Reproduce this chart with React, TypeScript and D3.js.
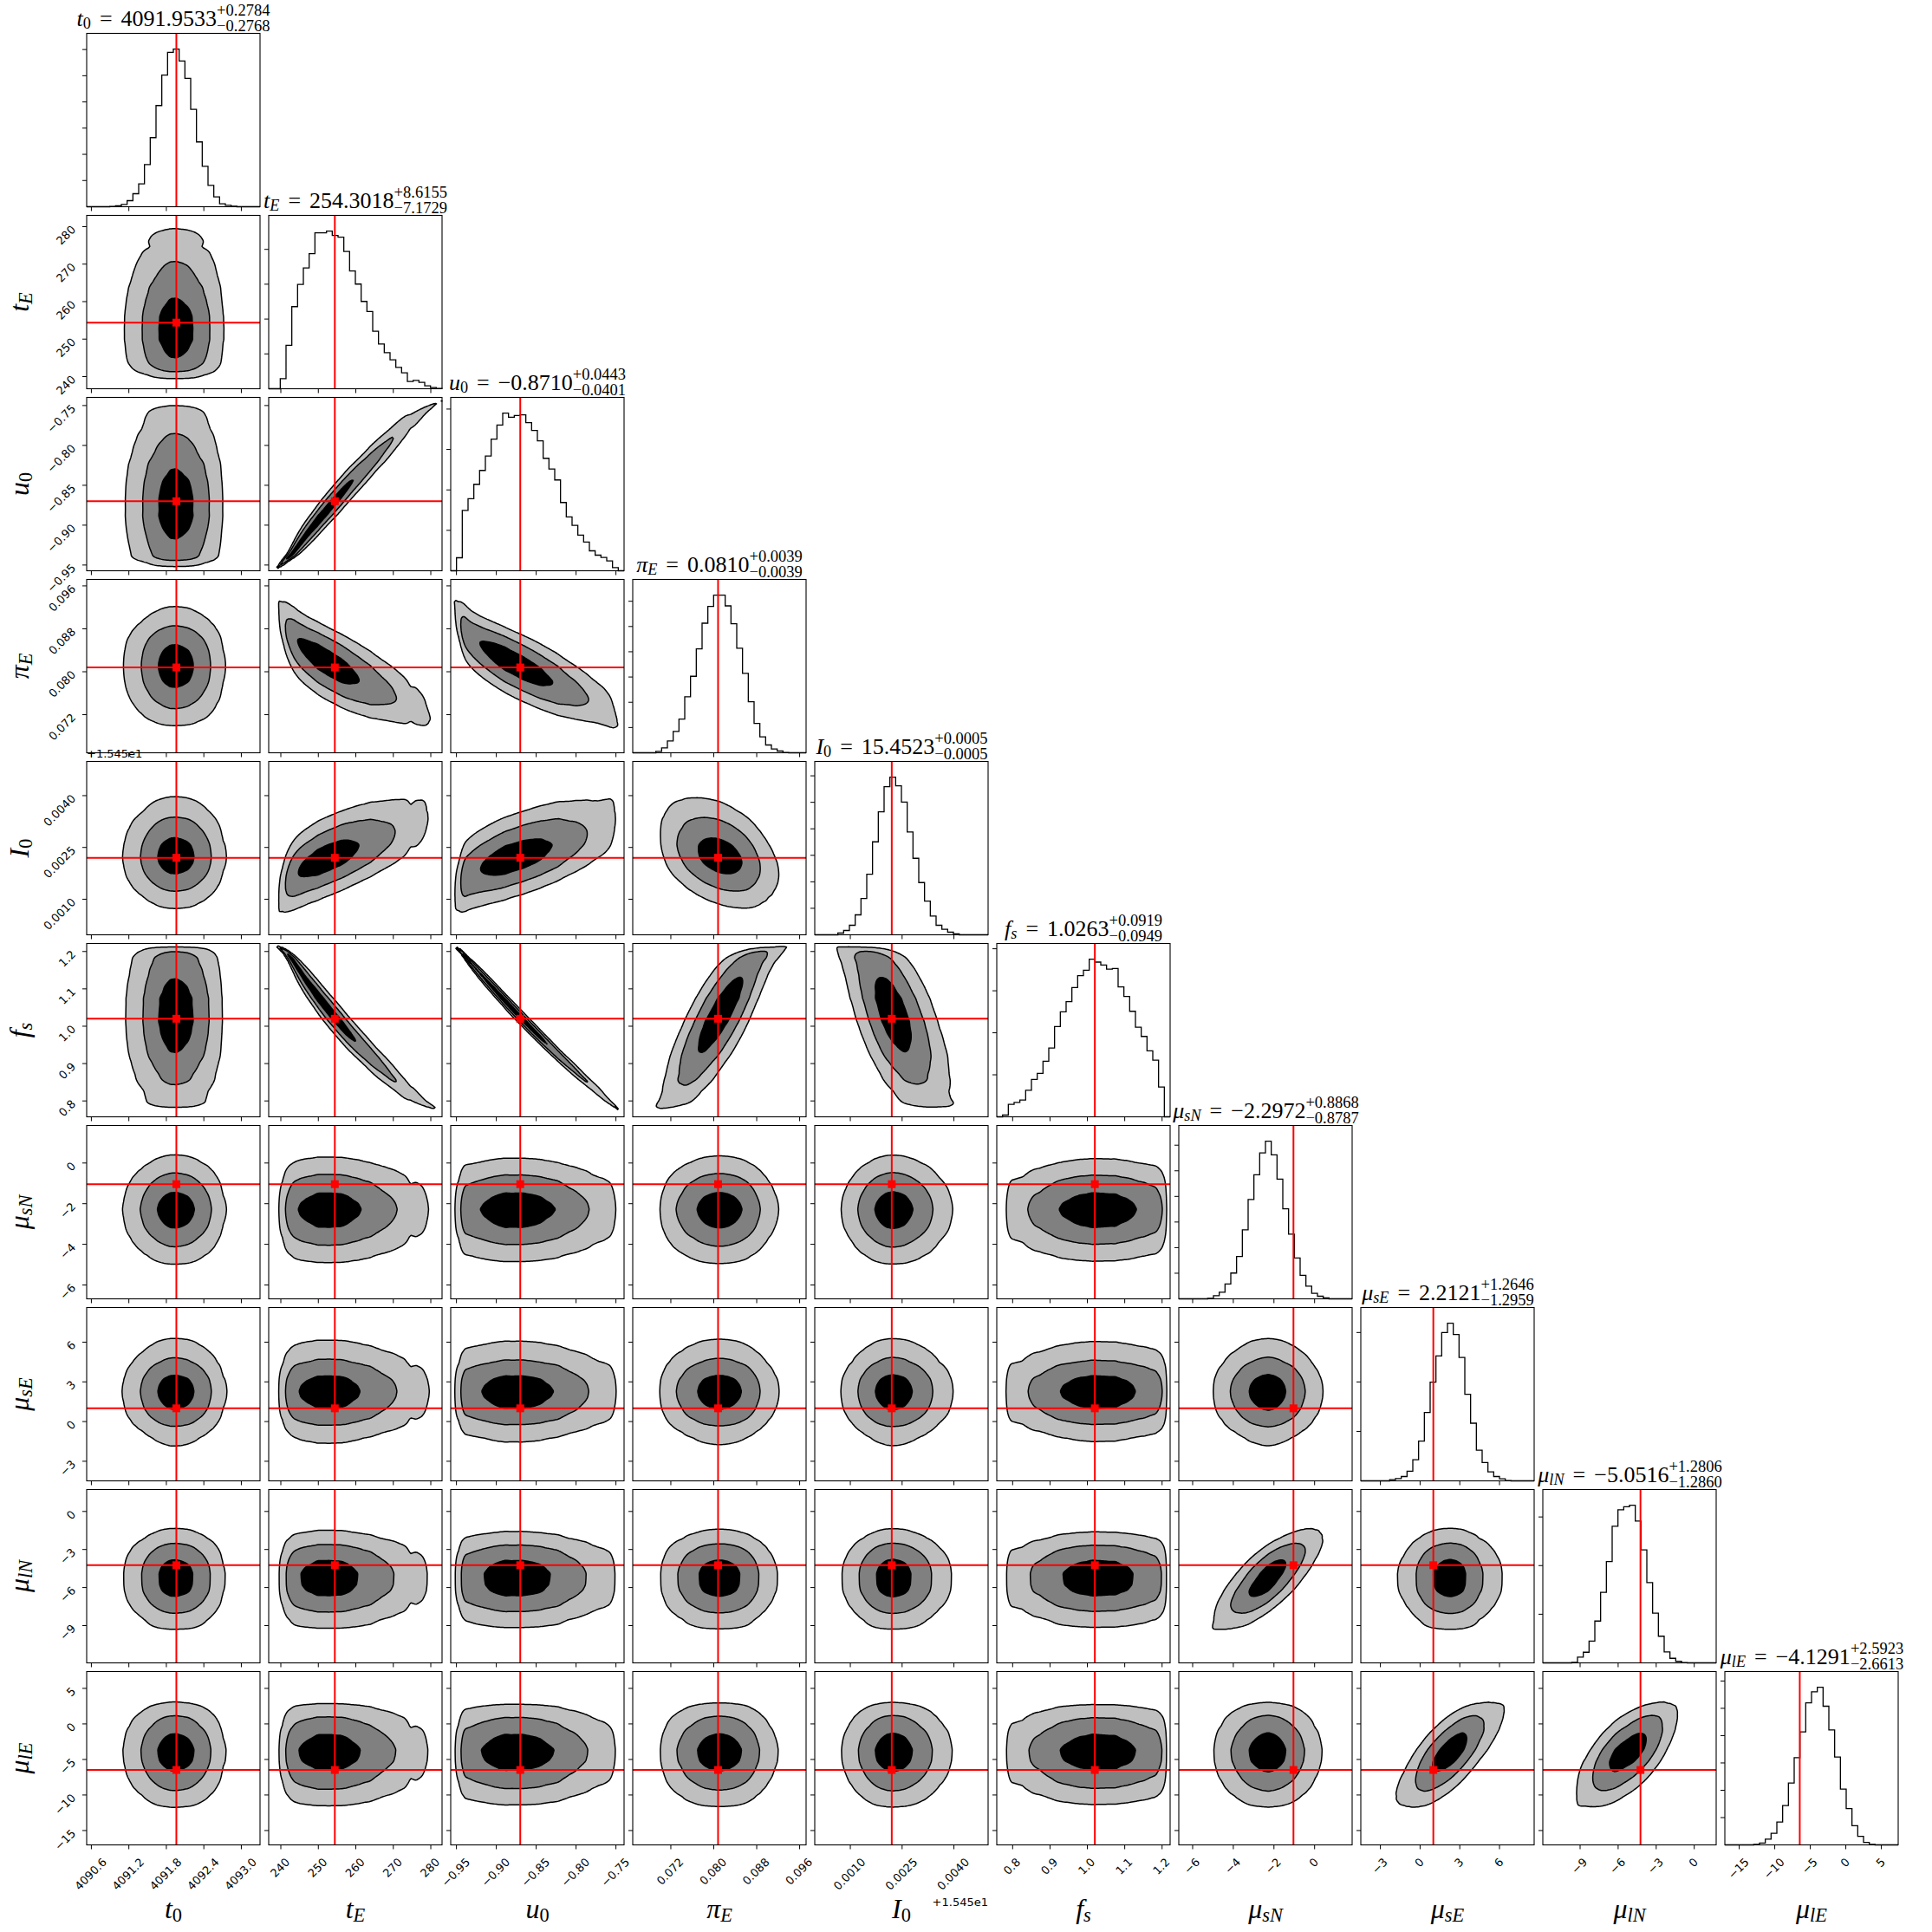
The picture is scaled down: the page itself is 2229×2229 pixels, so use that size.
import React, { useRef, useEffect } from "react";
import * as d3 from "d3";

const SIZE = 2229;
const PANEL = 200;
const PITCH = 210;
const LEFT = 100;
const TOP = 38.5;
const GRID = 120;

const SERIF = "'Liberation Serif', 'Times New Roman', serif";
const SANS = "'DejaVu Sans', sans-serif";

// axis labels: italic symbol + subscript
const symbols = ["t", "t", "u", "π", "I", "f", "μ", "μ", "μ", "μ"];
const subscripts = ["0", "E", "0", "E", "0", "s", "sN", "sE", "lN", "lE"];

// title numbers (median, +err, -err)
const medians = ["4091.9533", "254.3018", "−0.8710", "0.0810", "15.4523", "1.0263", "−2.2972", "2.2121", "−5.0516", "−4.1291"];
const errPlus = ["0.2784", "8.6155", "0.0443", "0.0039", "0.0005", "0.0919", "0.8868", "1.2646", "1.2806", "2.5923"];
const errMinus = ["0.2768", "7.1729", "0.0401", "0.0039", "0.0005", "0.0949", "0.8787", "1.2959", "1.2860", "2.6613"];

// axis ranges of each parameter
const ranges: [number, number][] = [
  [4090.525, 4093.299],
  [236.76, 283.0],
  [-0.9572, -0.7398],
  [0.0649, 0.0972],
  [15.44997, 15.45499],
  [0.7575, 1.2215],
  [-6.682, 1.847],
  [-4.48, 8.62],
  [-11.94, 1.73],
  [-17.02, 7.37],
];

// true values (red lines)
const truths = [4091.96, 254.4, -0.87, 0.0808, 15.4522, 1.02, -1.04, 1.0, -4.24, -6.48];

const tickValues = [
  [4090.6, 4091.2, 4091.8, 4092.4, 4093.0],
  [240, 250, 260, 270, 280],
  [-0.95, -0.9, -0.85, -0.8, -0.75],
  [0.072, 0.08, 0.088, 0.096],
  [15.451, 15.4525, 15.454],
  [0.8, 0.9, 1.0, 1.1, 1.2],
  [-6, -4, -2, 0],
  [-3, 0, 3, 6],
  [-9, -6, -3, 0],
  [-15, -10, -5, 0, 5],
];
const tickLabels = [
  ["4090.6", "4091.2", "4091.8", "4092.4", "4093.0"],
  ["240", "250", "260", "270", "280"],
  ["−0.95", "−0.90", "−0.85", "−0.80", "−0.75"],
  ["0.072", "0.080", "0.088", "0.096"],
  ["0.0010", "0.0025", "0.0040"],
  ["0.8", "0.9", "1.0", "1.1", "1.2"],
  ["−6", "−4", "−2", "0"],
  ["−3", "0", "3", "6"],
  ["−9", "−6", "−3", "0"],
  ["−15", "−10", "−5", "0", "5"],
];
const offsetText = "+1.545e1";
const offsetParam = 4;

// 30-bin marginal histograms (relative counts)
const histT0 = [0, 0, 0, 0, 1, 3, 8, 21, 45, 79, 146, 239, 350, 455, 534, 545, 504, 444, 337, 224, 140, 74, 34, 10, 5, 2, 0, 0, 0, 0];
const histTE = [0, 0, 35, 150, 284, 361, 418, 467, 539, 539, 545, 530, 524, 475, 407, 362, 302, 267, 199, 155, 125, 100, 74, 55, 25, 29, 22, 10, 4, 1];
const histU0 = [0, 45, 209, 249, 299, 347, 397, 455, 504, 545, 531, 537, 539, 512, 485, 449, 389, 352, 314, 236, 186, 157, 123, 99, 69, 54, 46, 34, 11, 0];
const histPiE = [0, 0, 0, 0, 5, 17, 41, 74, 117, 194, 265, 360, 449, 507, 546, 546, 509, 447, 362, 275, 177, 102, 55, 27, 13, 6, 1, 0, 0, 0];
const histI0 = [0, 0, 0, 0, 6, 15, 33, 69, 126, 210, 322, 426, 513, 546, 516, 460, 356, 265, 181, 117, 65, 33, 19, 9, 3, 0, 0, 0, 0, 0];
const histFs = [0, 6, 43, 50, 58, 92, 129, 150, 192, 238, 312, 363, 398, 447, 488, 507, 545, 535, 525, 511, 513, 449, 416, 365, 310, 278, 228, 196, 103, 0];
const histMusN = [0, 0, 0, 0, 0, 2, 11, 23, 51, 89, 146, 238, 343, 428, 504, 544, 497, 413, 311, 223, 141, 81, 44, 19, 9, 3, 0, 0, 0, 0];
const histMusE = [0, 0, 0, 0, 0, 4, 8, 15, 33, 73, 137, 236, 341, 431, 512, 544, 505, 426, 299, 199, 106, 63, 31, 15, 7, 1, 0, 0, 0, 0];
const histMulN = [0, 0, 0, 0, 0, 2, 19, 35, 72, 138, 233, 334, 451, 505, 515, 520, 468, 373, 265, 164, 88, 36, 15, 5, 1, 0, 0, 0, 0, 0];
const histMulE = [0, 0, 0, 0, 0, 2, 6, 19, 38, 75, 129, 203, 286, 371, 466, 502, 517, 455, 377, 288, 183, 119, 63, 28, 8, 2, 0, 0, 0, 0];
const histCounts = [histT0, histTE, histU0, histPiE, histI0, histFs, histMusN, histMusE, histMulN, histMulE];
const histTickSteps = [90.6, 120.5, 139.8, 87.5, 91.8, 145.3, 88.4, 170.7, 160.5, 89.6];

// pairwise correlations (row i, column j < i)
const correlations = [
  [],
  [0],
  [0, 0.985],
  [0, -0.78, -0.82],
  [0, 0.66, 0.6, -0.35],
  [0, -0.985, -0.997, 0.83, -0.62],
  [0, 0, 0, 0, 0, 0],
  [0, 0, 0, 0, 0, 0, 0],
  [0, 0, 0, 0, 0, 0, 0.75, 0],
  [0, 0, 0, 0, 0, 0, 0, 0.72, 0.65],
];

// enclosed probability of the filled contours, outer to inner
const levels = [0.989, 0.865, 0.393];
const fills = ["#bfbfbf", "#808080", "#000000"];

function normInv(p: number) {
  const a = [-39.69683028665376, 220.9460984245205, -275.9285104469687, 138.357751867269, -30.66479806614716, 2.506628277459239];
  const b = [-54.47609879822406, 161.5858368580409, -155.6989798598866, 66.80131188771972, -13.28068155288572];
  const c = [-0.007784894002430293, -0.3223964580411365, -2.400758277161838, -2.549732539343734, 4.374664141464968, 2.938163982698783];
  const d = [0.007784695709041462, 0.3224671290700398, 2.445134137142996, 3.754408661907416];
  const pl = 0.02425;
  if (p < pl) {
    const q = Math.sqrt(-2 * Math.log(p));
    return (((((c[0] * q + c[1]) * q + c[2]) * q + c[3]) * q + c[4]) * q + c[5]) / ((((d[0] * q + d[1]) * q + d[2]) * q + d[3]) * q + 1);
  }
  if (p > 1 - pl) {
    const q = Math.sqrt(-2 * Math.log(1 - p));
    return -(((((c[0] * q + c[1]) * q + c[2]) * q + c[3]) * q + c[4]) * q + c[5]) / ((((d[0] * q + d[1]) * q + d[2]) * q + d[3]) * q + 1);
  }
  const q = p - 0.5;
  const r = q * q;
  return ((((((a[0] * r + a[1]) * r + a[2]) * r + a[3]) * r + a[4]) * r + a[5]) * q) / (((((b[0] * r + b[1]) * r + b[2]) * r + b[3]) * r + b[4]) * r + 1);
}

// marginal density + normal scores on the grid, from the histogram
function buildMarginal(k: number) {
  const counts = histCounts[k];
  const nb = counts.length;
  const pdfAt = (u: number) => {
    const t = u * nb - 0.5;
    if (t <= 0) return counts[0];
    if (t >= nb - 1) return counts[nb - 1];
    const b = Math.floor(t);
    const f = t - b;
    return counts[b] * (1 - f) + counts[b + 1] * f;
  };
  const sub = 8;
  const m = GRID * sub;
  const cum = [0];
  for (let i = 0; i < m; i++) cum.push(cum[i] + pdfAt((i + 0.5) / m));
  const total = cum[m];
  const pdf: number[] = [];
  const z: number[] = [];
  for (let g = 0; g < GRID; g++) {
    pdf.push(pdfAt((g + 0.5) / GRID));
    const p = Math.min(1 - 1e-6, Math.max(1e-6, cum[g * sub + sub / 2] / total));
    z.push(normInv(p));
  }
  return { pdf, z };
}

function massThresholds(values: number[]) {
  const sorted = values.slice().sort((a, b) => b - a);
  const total = d3.sum(sorted);
  const res = levels.map(() => sorted[sorted.length - 1]);
  const done = levels.map(() => false);
  let acc = 0;
  for (const v of sorted) {
    acc += v;
    levels.forEach((l, k) => {
      if (!done[k] && acc >= l * total) {
        res[k] = v;
        done[k] = true;
      }
    });
  }
  return res;
}

function addMath(text: any, k: number, fs: number) {
  text.append("tspan").attr("font-style", "italic").text(symbols[k]);
  const s = subscripts[k];
  text
    .append("tspan")
    .attr("font-size", fs * 0.7)
    .attr("dy", fs * 0.12)
    .attr("font-style", /^\d+$/.test(s) ? "normal" : "italic")
    .text(s);
}

const App = () => {
  const svgRef = useRef<SVGSVGElement | null>(null);

  useEffect(() => {
    const svg = d3.select(svgRef.current);
    svg.selectAll("*").remove();
    svg.append("rect").attr("width", SIZE).attr("height", SIZE).attr("fill", "#fff");

    const n = ranges.length;
    const marginals = d3.range(n).map((k) => buildMarginal(k));
    const xScale = (j: number) =>
      d3.scaleLinear().domain(ranges[j]).range([LEFT + j * PITCH, LEFT + j * PITCH + PANEL]);
    const yScale = (i: number) =>
      d3.scaleLinear().domain(ranges[i]).range([TOP + i * PITCH + PANEL, TOP + i * PITCH]);

    for (let i = 0; i < n; i++) {
      for (let j = 0; j <= i; j++) {
        const x0 = LEFT + j * PITCH;
        const y0 = TOP + i * PITCH;
        const g = svg.append("g");
        const x = xScale(j);

        if (i === j) {
          // histogram
          const counts = histCounts[i];
          const nb = counts.length;
          const maxC = d3.max(counts) as number;
          const y = d3.scaleLinear().domain([0, 1.1 * maxC]).range([y0 + PANEL, y0]);
          const [r0, r1] = ranges[i];
          const edges = d3.range(nb + 1).map((b) => r0 + (b * (r1 - r0)) / nb);
          const pts: [number, number][] = [[edges[0], 0], ...counts.map((c, b) => [edges[b], c] as [number, number]), [edges[nb], 0]];
          const line = d3
            .line<[number, number]>()
            .x((d) => x(d[0]))
            .y((d) => y(d[1]))
            .curve(d3.curveStepAfter);
          g.append("path").attr("d", line(pts)).attr("fill", "none").attr("stroke", "#000").attr("stroke-width", 1.3);
          g.append("line")
            .attr("x1", x(truths[i])).attr("x2", x(truths[i]))
            .attr("y1", y0).attr("y2", y0 + PANEL)
            .attr("stroke", "#ff0000").attr("stroke-width", 2);
          const hticks = d3.range(histTickSteps[i], 1.1 * maxC, histTickSteps[i]);
          g.selectAll(".ht")
            .data(hticks)
            .enter()
            .append("line")
            .attr("x1", x0 - 5).attr("x2", x0)
            .attr("y1", (d) => y(d)).attr("y2", (d) => y(d))
            .attr("stroke", "#000").attr("stroke-width", 1);
        } else {
          // 2D density from marginals + gaussian copula
          const mx = marginals[j];
          const my = marginals[i];
          const rho = correlations[i][j];
          const s = 1 - rho * rho;
          const norm = 1 / Math.sqrt(s);
          const values: number[] = new Array(GRID * GRID).fill(0);
          for (let gy = 0; gy < GRID; gy++) {
            for (let gx = 0; gx < GRID; gx++) {
              const fx = mx.pdf[gx];
              const fy = my.pdf[gy];
              if (fx <= 0 || fy <= 0) continue;
              const zx = mx.z[gx];
              const zy = my.z[gy];
              values[gx + gy * GRID] =
                fx * fy * norm * Math.exp((2 * rho * zx * zy - rho * rho * (zx * zx + zy * zy)) / (2 * s));
            }
          }
          const th = massThresholds(values);
          const contours = d3.contours().size([GRID, GRID]).thresholds(th)(values);
          const proj = d3.geoTransform({
            point: function (this: any, px: number, py: number) {
              this.stream.point(x0 + (px / GRID) * PANEL, y0 + PANEL - (py / GRID) * PANEL);
            },
          });
          const path = d3.geoPath(proj);
          contours.forEach((c, k) => {
            g.append("path")
              .attr("d", path(c as any))
              .attr("fill", fills[k])
              .attr("fill-rule", "evenodd")
              .attr("stroke", "#000")
              .attr("stroke-width", 1.5)
              .attr("stroke-linejoin", "round");
          });
          const y = yScale(i);
          const tx = x(truths[j]);
          const ty = y(truths[i]);
          g.append("line")
            .attr("x1", tx).attr("x2", tx).attr("y1", y0).attr("y2", y0 + PANEL)
            .attr("stroke", "#ff0000").attr("stroke-width", 2);
          g.append("line")
            .attr("x1", x0).attr("x2", x0 + PANEL).attr("y1", ty).attr("y2", ty)
            .attr("stroke", "#ff0000").attr("stroke-width", 2);
          g.append("rect")
            .attr("x", tx - 4.5).attr("y", ty - 4.5).attr("width", 9).attr("height", 9)
            .attr("fill", "#ff0000");
          g.selectAll(".yt")
            .data(tickValues[i])
            .enter()
            .append("line")
            .attr("x1", x0 - 5).attr("x2", x0)
            .attr("y1", (d) => y(d)).attr("y2", (d) => y(d))
            .attr("stroke", "#000").attr("stroke-width", 1);
        }

        // frame + bottom ticks
        g.append("rect")
          .attr("x", x0).attr("y", y0).attr("width", PANEL).attr("height", PANEL)
          .attr("fill", "none").attr("stroke", "#000").attr("stroke-width", 1.1);
        g.selectAll(".xt")
          .data(tickValues[j])
          .enter()
          .append("line")
          .attr("x1", (d) => x(d)).attr("x2", (d) => x(d))
          .attr("y1", y0 + PANEL).attr("y2", y0 + PANEL + 5)
          .attr("stroke", "#000").attr("stroke-width", 1);
      }
    }

    // tick labels
    const tfs = 13;
    const cap = 0.73 * tfs;
    const bottomY = TOP + (n - 1) * PITCH + PANEL;
    for (let j = 0; j < n; j++) {
      const x = xScale(j);
      tickValues[j].forEach((v, k) => {
        const t = svg.append("text")
          .attr("font-family", SANS).attr("font-size", tfs)
          .attr("text-anchor", "end").text(tickLabels[j][k]);
        const w = (t.node() as SVGTextElement).getComputedTextLength();
        const ex = x(v) + (0.707 * (w + cap)) / 2 - 1;
        const ey = bottomY + 14 + 0.707 * cap;
        t.attr("transform", `translate(${ex},${ey}) rotate(-45)`);
      });
    }
    for (let i = 1; i < n; i++) {
      const y = yScale(i);
      tickValues[i].forEach((v, k) => {
        const ey = y(v) - 2.5 + 0.707 * cap;
        svg.append("text")
          .attr("font-family", SANS).attr("font-size", tfs)
          .attr("text-anchor", "end")
          .attr("transform", `translate(88,${ey}) rotate(-45)`)
          .text(tickLabels[i][k]);
      });
    }
    // offset texts for I0
    svg.append("text")
      .attr("font-family", SANS).attr("font-size", 13)
      .attr("x", LEFT).attr("y", TOP + offsetParam * PITCH - 4.5)
      .text(offsetText);
    svg.append("text")
      .attr("font-family", SANS).attr("font-size", 13)
      .attr("text-anchor", "end")
      .attr("x", LEFT + offsetParam * PITCH + PANEL).attr("y", 2199)
      .text(offsetText);

    // axis labels
    const lfs = 32;
    for (let k = 0; k < n; k++) {
      const bl = svg.append("text")
        .attr("font-family", SERIF).attr("font-size", lfs)
        .attr("text-anchor", "middle")
        .attr("x", LEFT + k * PITCH + PANEL / 2).attr("y", 2213);
      addMath(bl, k, lfs);
      if (k > 0) {
        const ll = svg.append("text")
          .attr("font-family", SERIF).attr("font-size", lfs)
          .attr("text-anchor", "middle")
          .attr("transform", `translate(33,${TOP + k * PITCH + PANEL / 2}) rotate(-90)`);
        addMath(ll, k, lfs);
      }
    }

    // titles
    const mfs = 26;
    const sfs = 18.5;
    for (let k = 0; k < n; k++) {
      const cx = LEFT + k * PITCH + PANEL / 2;
      const base = TOP + k * PITCH - 8.5;
      const g = svg.append("g").attr("font-family", SERIF);
      const main = g.append("text").attr("x", 0).attr("y", base).attr("font-size", mfs);
      addMath(main, k, mfs);
      main.append("tspan").attr("dy", -mfs * 0.12).attr("dx", 10).text("=");
      main.append("tspan").attr("dx", 10).text(medians[k]);
      const bb = (main.node() as SVGTextElement).getBBox();
      const endX = bb.x + bb.width;
      const sup = g.append("text").attr("x", endX).attr("y", base - 12).attr("font-size", sfs).text("+" + errPlus[k]);
      const sub = g.append("text").attr("x", endX).attr("y", base + 6).attr("font-size", sfs).text("−" + errMinus[k]);
      const w1 = (sup.node() as SVGTextElement).getBBox().width;
      const w2 = (sub.node() as SVGTextElement).getBBox().width;
      const right = endX + Math.max(w1, w2);
      g.attr("transform", `translate(${cx - (bb.x + right) / 2},0)`);
    }
  }, []);

  return (
    <div style={{ position: "absolute", left: 0, top: 0 }}>
      <svg ref={svgRef} width={SIZE} height={SIZE}></svg>
    </div>
  );
};

export default App;
